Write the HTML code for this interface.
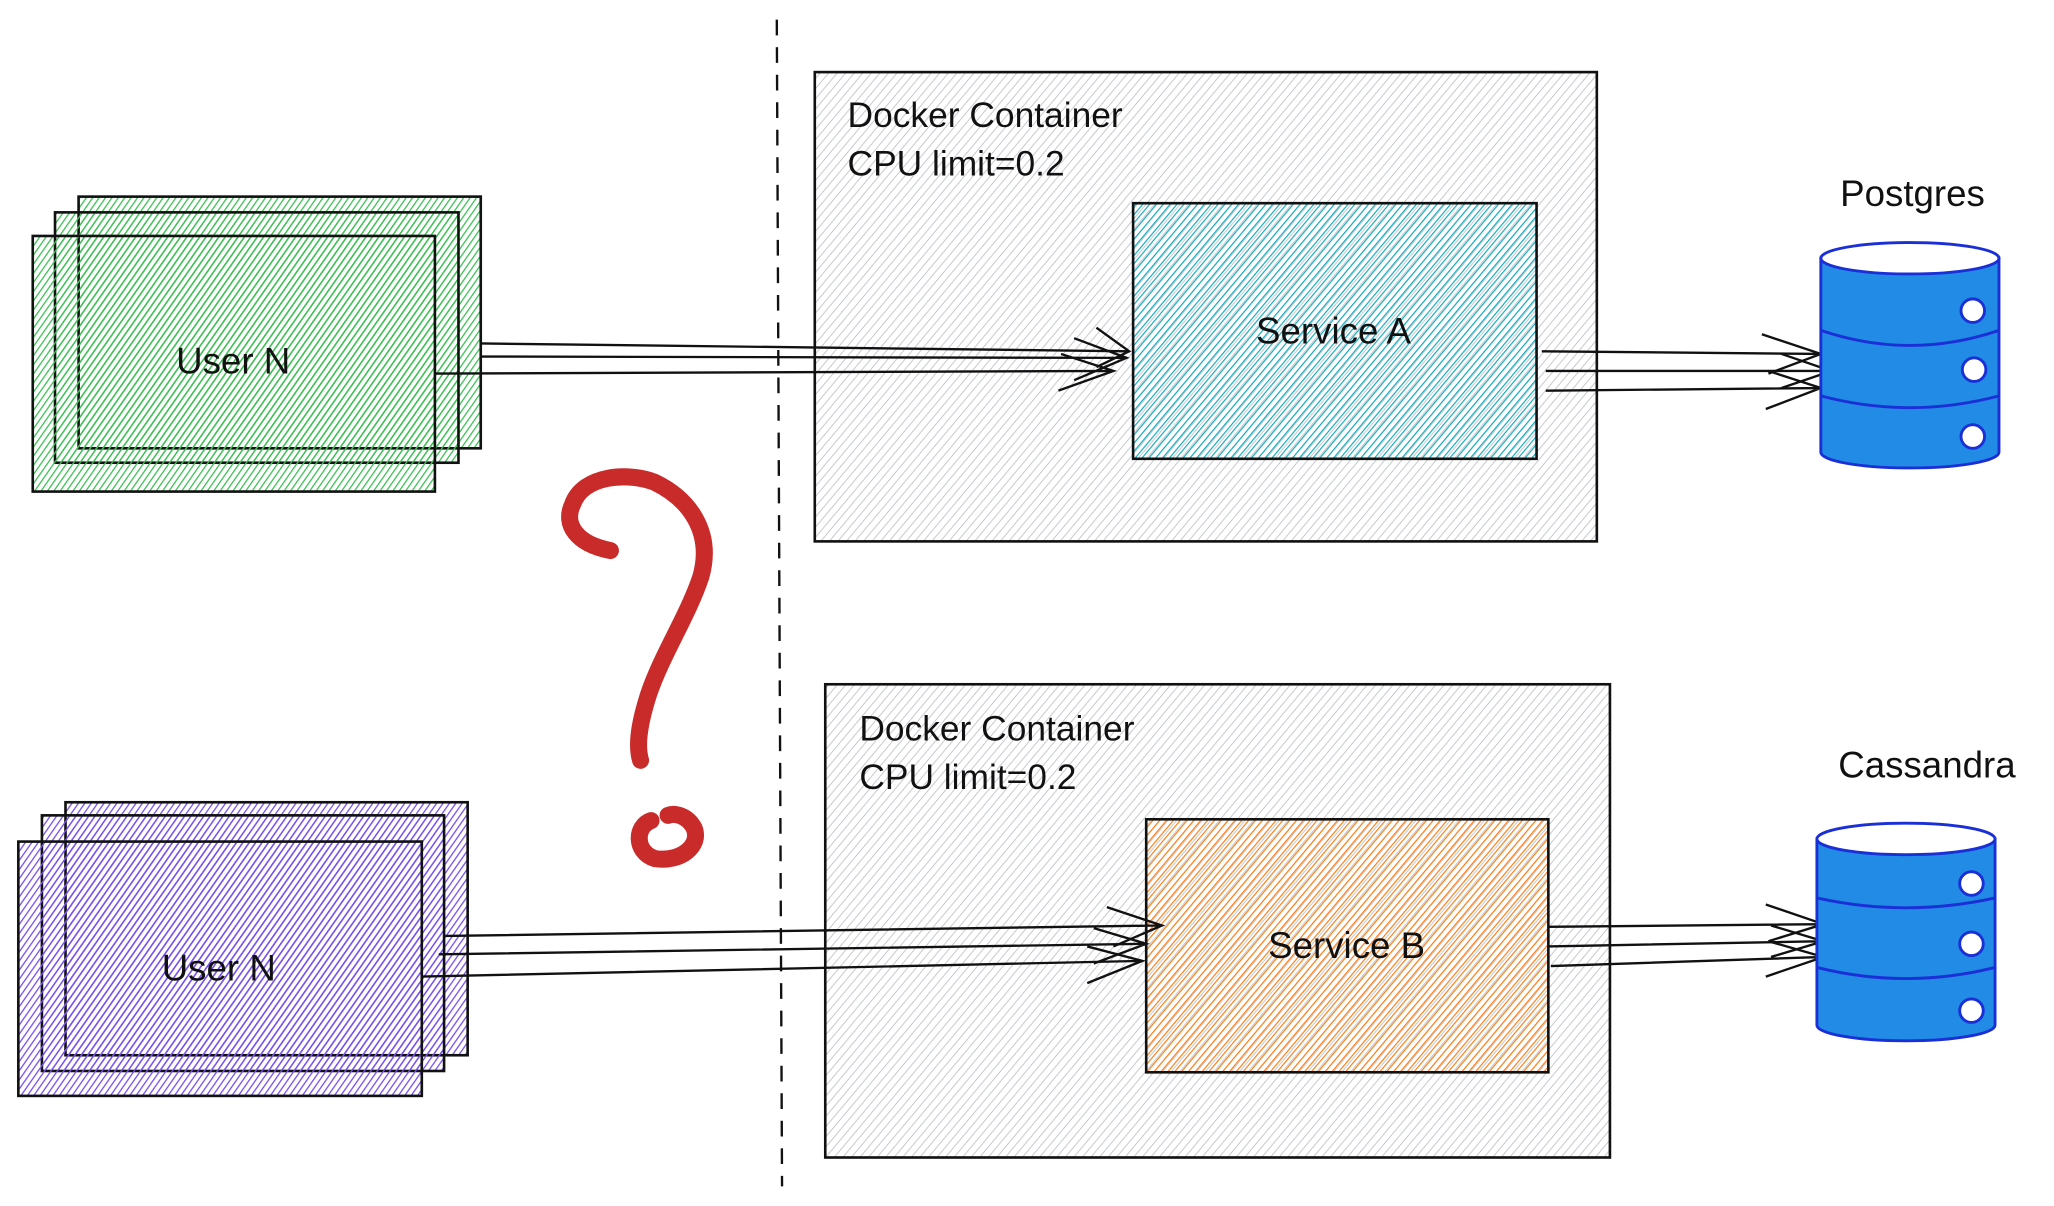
<!DOCTYPE html>
<html><head><meta charset="utf-8"><style>
html,body{margin:0;padding:0;background:#fff;}
svg{display:block;}
text{font-family:"Liberation Sans",sans-serif;fill:#111;}
</style></head><body>
<svg width="2054" height="1206" viewBox="0 0 1568 920" preserveAspectRatio="none" xmlns="http://www.w3.org/2000/svg">
<defs>
<pattern id="pg" width="5" height="5" patternUnits="userSpaceOnUse" patternTransform="rotate(-50)"><line x1="0" y1="0" x2="5" y2="0" stroke="#c4c9ce" stroke-width="1.5"/></pattern>
<pattern id="pc" width="4" height="4" patternUnits="userSpaceOnUse" patternTransform="rotate(-50)"><line x1="0" y1="0" x2="4" y2="0" stroke="#15aabf" stroke-width="1.8"/></pattern>
<pattern id="po" width="4" height="4" patternUnits="userSpaceOnUse" patternTransform="rotate(-50)"><line x1="0" y1="0" x2="4" y2="0" stroke="#fd7e14" stroke-width="1.8"/></pattern>
<pattern id="pgr" width="4" height="4" patternUnits="userSpaceOnUse" patternTransform="rotate(-55)"><line x1="0" y1="0" x2="4" y2="0" stroke="#40c057" stroke-width="2"/></pattern>
<pattern id="pv" width="4" height="4" patternUnits="userSpaceOnUse" patternTransform="rotate(-55)"><line x1="0" y1="0" x2="4" y2="0" stroke="#7950f2" stroke-width="2"/></pattern>
</defs>

<line x1="593" y1="15" x2="597" y2="905" stroke="#111" stroke-width="1.8" stroke-dasharray="12 9"/>

<rect x="622" y="55" width="597" height="358" fill="url(#pg)" stroke="#111" stroke-width="2"/>
<text x="647" y="97" font-size="27">Docker Container</text>
<text x="647" y="134" font-size="27">CPU limit=0.2</text>
<rect x="865" y="155" width="308" height="195" fill="url(#pc)" stroke="#111" stroke-width="2"/>
<text x="1018" y="262" font-size="28" text-anchor="middle">Service A</text>

<rect x="630" y="522" width="599" height="361" fill="url(#pg)" stroke="#111" stroke-width="2"/>
<text x="656" y="565" font-size="27">Docker Container</text>
<text x="656" y="602" font-size="27">CPU limit=0.2</text>
<rect x="875" y="625" width="307" height="193" fill="url(#po)" stroke="#111" stroke-width="2"/>
<text x="1028" y="731" font-size="28" text-anchor="middle">Service B</text>

<g fill="url(#pgr)" stroke="#111" stroke-width="2">
<rect x="60" y="150" width="307" height="192"/>
<rect x="42" y="162" width="308" height="191"/>
<rect x="25" y="180" width="307" height="195"/>
</g>
<text x="178" y="285" font-size="28" text-anchor="middle">User N</text>

<g fill="url(#pv)" stroke="#111" stroke-width="2">
<rect x="50" y="612" width="307" height="193"/>
<rect x="32" y="622" width="307" height="195"/>
<rect x="14" y="642" width="308" height="194"/>
</g>
<text x="167" y="748" font-size="28" text-anchor="middle">User N</text>

<g stroke="#111" stroke-width="1.8" fill="none">
<path d="M367 262 L862 268 M837 250 L862 268 L837 280"/>
<path d="M367 272 L860 273 M820 258 L860 273 L820 290"/>
<path d="M332 285 L850 283 M810 270 L850 283 L808 298"/>
<path d="M340 714 L887 706 M845 692 L887 706 L850 722"/>
<path d="M335 728 L875 720 M835 708 L875 720 L835 735"/>
<path d="M322 745 L872 733 M830 722 L872 733 L830 750"/>
<path d="M1177 268 L1390 270 M1345 255 L1390 270 L1350 285"/>
<path d="M1180 283 L1398 283 M1360 270 L1398 283 L1360 296"/>
<path d="M1180 298 L1390 296 M1350 283 L1390 296 L1348 312"/>
<path d="M1182 707 L1392 705 M1348 690 L1392 705 L1350 718"/>
<path d="M1182 722 L1392 718 M1352 706 L1392 718 L1352 730"/>
<path d="M1184 737 L1392 730 M1350 718 L1392 730 L1348 745"/>
</g>

<g stroke="#1b2fd6" stroke-width="2.2">
<path d="M1390 197 L1390 345 A68 12 0 0 0 1526 345 L1526 197 Z" fill="#228be6"/>
<ellipse cx="1458" cy="197" rx="68" ry="12" fill="#fff"/>
<path d="M1390 252 Q1458 275 1526 252 M1390 302 Q1458 320 1526 302" fill="none"/>
<g fill="#fff"><circle cx="1506" cy="237" r="9"/><circle cx="1507" cy="282" r="9"/><circle cx="1506" cy="333" r="9"/></g>
<path d="M1387 640 L1387 782 A68 12 0 0 0 1523 782 L1523 640 Z" fill="#228be6"/>
<ellipse cx="1455" cy="640" rx="68" ry="12" fill="#fff"/>
<path d="M1387 685 Q1455 700 1523 685 M1387 738 Q1455 755 1523 738" fill="none"/>
<g fill="#fff"><circle cx="1505" cy="674" r="9"/><circle cx="1505" cy="720" r="9"/><circle cx="1505" cy="771" r="9"/></g>
</g>
<text x="1460" y="157" font-size="28" text-anchor="middle">Postgres</text>
<text x="1471" y="593" font-size="28" text-anchor="middle">Cassandra</text>

<path d="M466 420 C440 415 430 400 437 385 C445 362 480 360 500 368 C525 380 545 405 535 440 C525 470 505 500 495 530 C487 555 486 570 489 580" fill="none" stroke="#c92a2a" stroke-width="13" stroke-linecap="round"/>
<path d="M497 626 C485 630 484 650 500 655 C520 658 535 645 530 632 C525 622 515 620 510 622" fill="none" stroke="#c92a2a" stroke-width="13" stroke-linecap="round"/>
</svg>
</body></html>
